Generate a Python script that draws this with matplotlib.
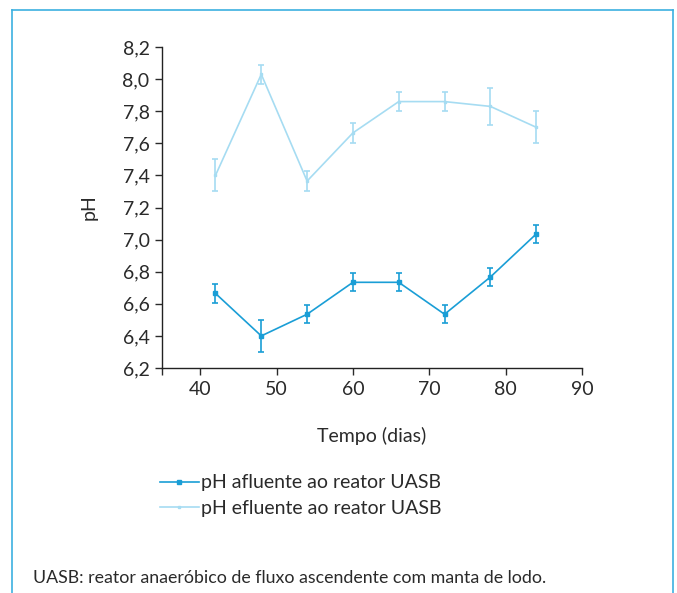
import matplotlib
matplotlib.use("Agg")
import matplotlib.pyplot as plt
from matplotlib.lines import Line2D

plt.rcParams['font.family'] = ['Lato', 'DejaVu Sans']

dias = [42, 48, 54, 60, 66, 72, 78, 84]
ph_afluente = [6.665, 6.40, 6.535, 6.734, 6.734, 6.535, 6.767, 7.035]
err_afluente = [0.057, 0.10, 0.057, 0.057, 0.057, 0.057, 0.057, 0.058]
ph_efluente = [7.40, 8.03, 7.365, 7.665, 7.86, 7.86, 7.83, 7.70]
err_efluente = [0.10, 0.06, 0.06, 0.06, 0.057, 0.057, 0.115, 0.10]

yticks = [6.2, 6.4, 6.6, 6.8, 7.0, 7.2, 7.4, 7.6, 7.8, 8.0, 8.2]
xticks = [35, 40, 50, 60, 70, 80, 90]

cor_af = '#1a9ed6'
cor_ef = '#a6dcf2'
cor_txt = '#2a2a2a'

fig = plt.figure(figsize=(6.77, 5.93), dpi=100)
ax = fig.add_axes([0.2393, 0.3794, 0.6204, 0.5413])

ax.errorbar(dias, ph_efluente, yerr=err_efluente, color=cor_ef, lw=1.2,
            marker='s', ms=1.5, capsize=2.5, elinewidth=1.2, capthick=1.2,
            label='pH efluente ao reator UASB')
ax.errorbar(dias, ph_afluente, yerr=err_afluente, color=cor_af, lw=1.2,
            marker='s', ms=3, capsize=2.5, elinewidth=1.2, capthick=1.2,
            label='pH afluente ao reator UASB')

ax.set_xlim(35, 90)
ax.set_ylim(6.2, 8.2)
ax.set_xticks(xticks)
ax.set_xticklabels([''] + [str(x) for x in xticks[1:]])
ax.set_yticks(yticks)
ax.set_yticklabels([f'{v:.1f}'.replace('.', ',') for v in yticks])
ax.spines['top'].set_visible(False)
ax.spines['right'].set_visible(False)
for s in ('left', 'bottom'):
    ax.spines[s].set_color('#222222')
    ax.spines[s].set_linewidth(1.0)
ax.tick_params(labelsize=14, colors=cor_txt, length=5, width=1.0, pad=4)

ax.set_ylabel('pH', fontsize=14, color=cor_txt, labelpad=18)
ax.set_xlabel('Tempo (dias)', fontsize=14, color=cor_txt, labelpad=21)

handles = [
    Line2D([], [], color=cor_af, lw=1.2, marker='s', ms=3),
    Line2D([], [], color=cor_ef, lw=1.2, marker='s', ms=1.5),
]
leg = fig.legend(handles, ['pH afluente ao reator UASB', 'pH efluente ao reator UASB'],
                 loc='upper left', bbox_to_anchor=(0.236, 0.2), frameon=False,
                 fontsize=14, handlelength=2.0, handletextpad=0.1, labelspacing=0.45,
                 borderaxespad=0, borderpad=0)
for t in leg.get_texts():
    t.set_color(cor_txt)

fig.text(33 / 677, 1 - 578 / 593, 'UASB: reator anaeróbico de fluxo ascendente com manta de lodo.',
         fontsize=12.8, color=cor_txt, va='center', ha='left')

# moldura azul
borda = '#3cb0e0'
x0, x1, y0 = 11.5 / 677, 672.5 / 677, 1 - 9.5 / 593
fig.add_artist(Line2D([x0, x1], [y0, y0], color=borda, lw=1.2, transform=fig.transFigure))
fig.add_artist(Line2D([x0, x0], [0, y0], color=borda, lw=1.2, transform=fig.transFigure))
fig.add_artist(Line2D([x1, x1], [0, y0], color=borda, lw=1.2, transform=fig.transFigure))

fig.savefig('out.png', dpi=100)
